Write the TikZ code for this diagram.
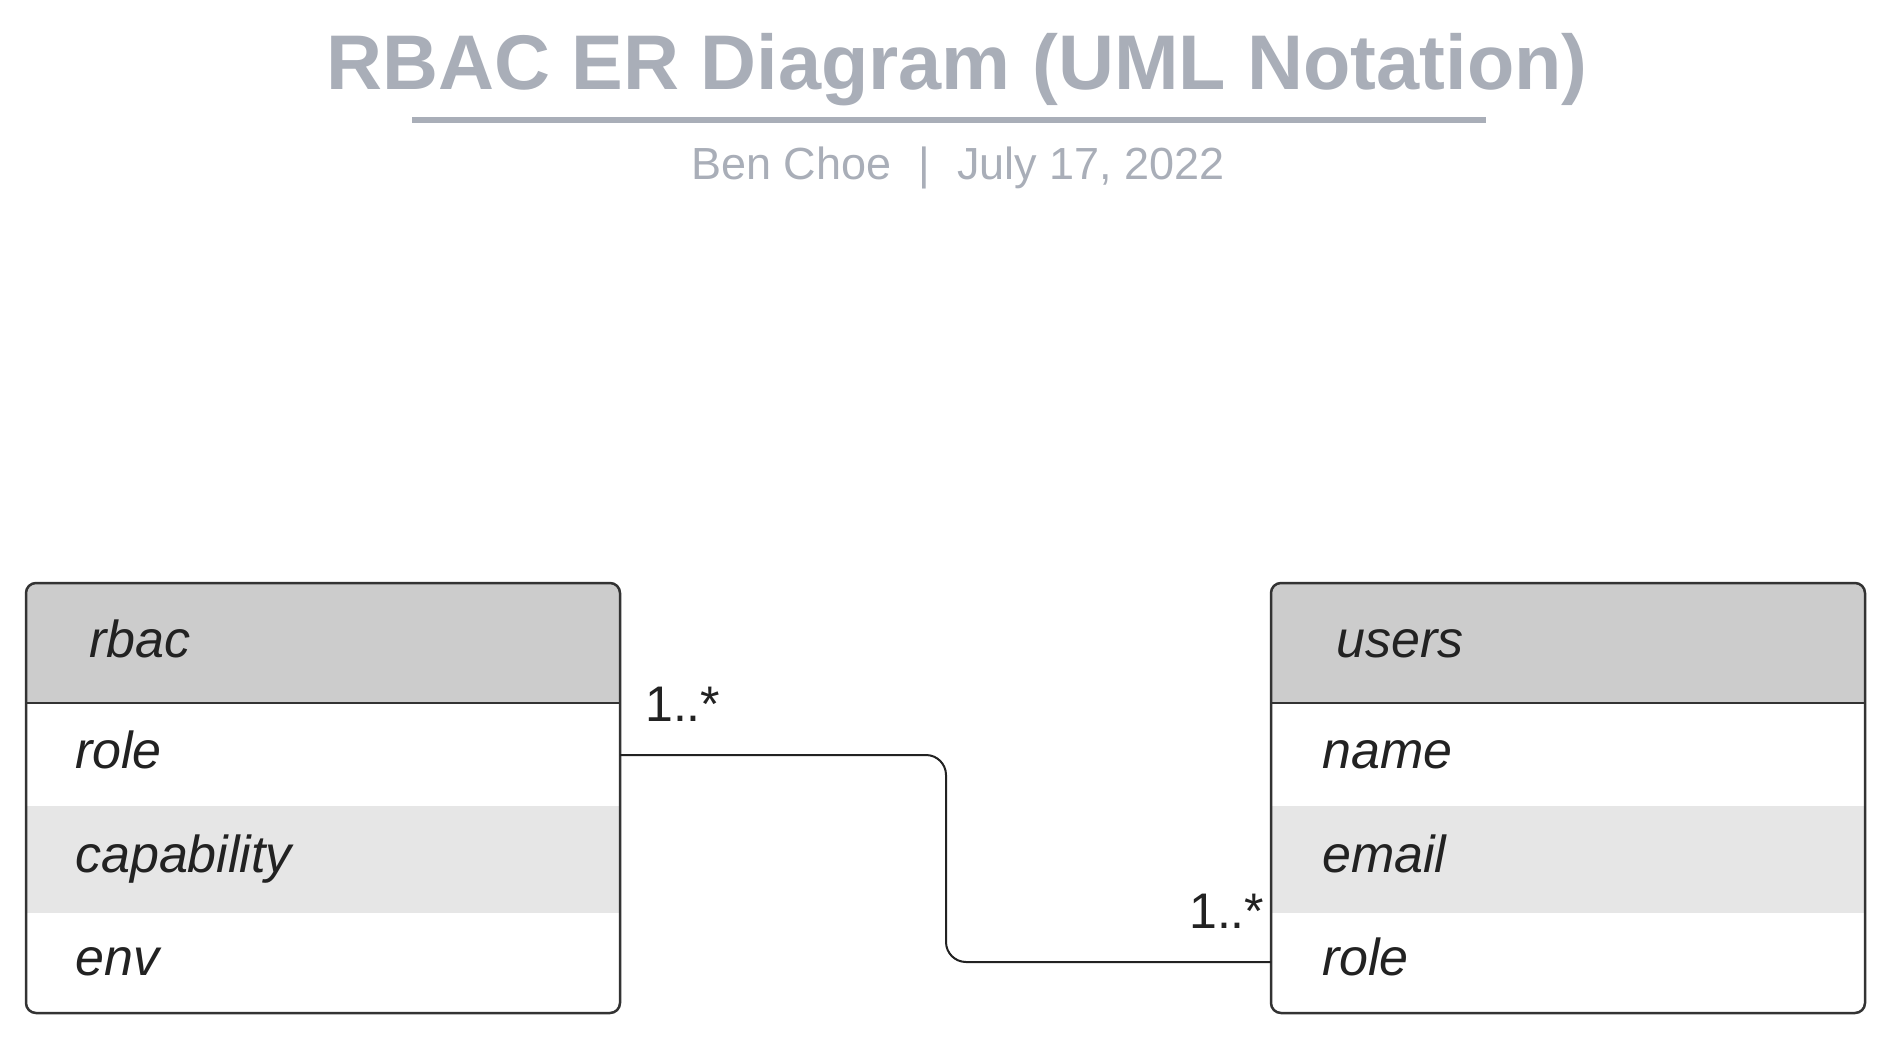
\documentclass[tikz,border=0pt]{standalone}
\usepackage{fontspec}
\setmainfont{Liberation Sans}
\definecolor{titlegray}{HTML}{A9AEB8}
\definecolor{hdrfill}{HTML}{CCCCCC}
\definecolor{altfill}{HTML}{E6E6E6}
\definecolor{edge}{HTML}{333333}
\definecolor{ink}{HTML}{222222}
\begin{document}
\begin{tikzpicture}[x=1pt,y=-1pt,
  titletext/.style={font=\fontsize{77.5}{90}\selectfont\bfseries, text=titlegray, inner sep=0pt, anchor=base},
  subtext/.style={font=\fontsize{45}{52}\selectfont, text=titlegray, inner sep=0pt, anchor=base},
  entity/.style={draw=edge, line width=2.5pt, rounded corners=10pt, minimum width=594pt, minimum height=430pt, inner sep=0pt},
  rowbox/.style={inner sep=0pt, minimum width=600pt, outer sep=0pt},
  hdrtext/.style={font=\fontsize{52}{60}\selectfont\itshape, text=ink, inner sep=0pt, anchor=base west},
  attrtext/.style={font=\fontsize{52}{60}\selectfont\itshape, text=ink, inner sep=0pt, anchor=base west},
  multtext/.style={font=\fontsize{50}{58}\selectfont, text=ink, inner sep=0pt, anchor=base west},
  conn/.style={draw=ink, line width=2pt, rounded corners=20pt}
]
\useasboundingbox (0,0) rectangle (1892,1040);
\fill[white] (0,0) rectangle (1892,1040);

% title
\node[titletext] (title) at (957,90) {RBAC ER Diagram (UML Notation)};
\draw[titlegray, line width=6pt] (412,120) coordinate (ulA) -- (1486,120) coordinate (ulB);
\node[subtext] (sub) at (958,180) {Ben Choe\hspace{0.6em}|\hspace{0.6em}July 17, 2022};

% rbac entity
\begin{scope}
  \clip[rounded corners=10pt] (26,583) rectangle (620,1013);
  \fill[white] (26,583) rectangle (620,1013);
  \node[rowbox, fill=hdrfill, minimum height=120pt] (rbac-h) at (323,643) {};
  \node[rowbox, minimum height=103pt] (rbac-r1) at (323,754.5) {};
  \node[rowbox, fill=altfill, minimum height=107pt] (rbac-r2) at (323,859.5) {};
  \node[rowbox, minimum height=100pt] (rbac-r3) at (323,963) {};
\end{scope}
\draw[edge, line width=2pt] (26,703) -- (620,703);
\node[entity] (rbac) at (323,798) {};
\node[hdrtext] (rbac-ht) at (89,657) {rbac};
\node[attrtext] (rbac-a1) at (75,768) {role};
\node[attrtext] (rbac-a2) at (75,872) {capability};
\node[attrtext] (rbac-a3) at (75,975) {env};

% users entity
\begin{scope}
  \clip[rounded corners=10pt] (1271,583) rectangle (1865,1013);
  \fill[white] (1271,583) rectangle (1865,1013);
  \node[rowbox, fill=hdrfill, minimum height=120pt] (users-h) at (1568,643) {};
  \node[rowbox, minimum height=103pt] (users-r1) at (1568,754.5) {};
  \node[rowbox, fill=altfill, minimum height=107pt] (users-r2) at (1568,859.5) {};
  \node[rowbox, minimum height=100pt] (users-r3) at (1568,963) {};
\end{scope}
\draw[edge, line width=2pt] (1271,703) -- (1865,703);
\node[entity] (users) at (1568,798) {};
\node[hdrtext] (users-ht) at (1336,657) {users};
\node[attrtext] (users-a1) at (1322,768) {name};
\node[attrtext] (users-a2) at (1322,872) {email};
\node[attrtext] (users-a3) at (1322,975) {role};

% connector
\coordinate (pL) at (620,755);
\coordinate (pR) at (1271,962);
\coordinate (mid) at (946,858);
\draw[conn] (pL) -- (pL -| mid) -- (mid |- pR) -- (pR);
\node[multtext] (m1) at (645,721) {1..*};
\node[multtext] (m2) at (1189,928) {1..*};
\end{tikzpicture}
\end{document}
